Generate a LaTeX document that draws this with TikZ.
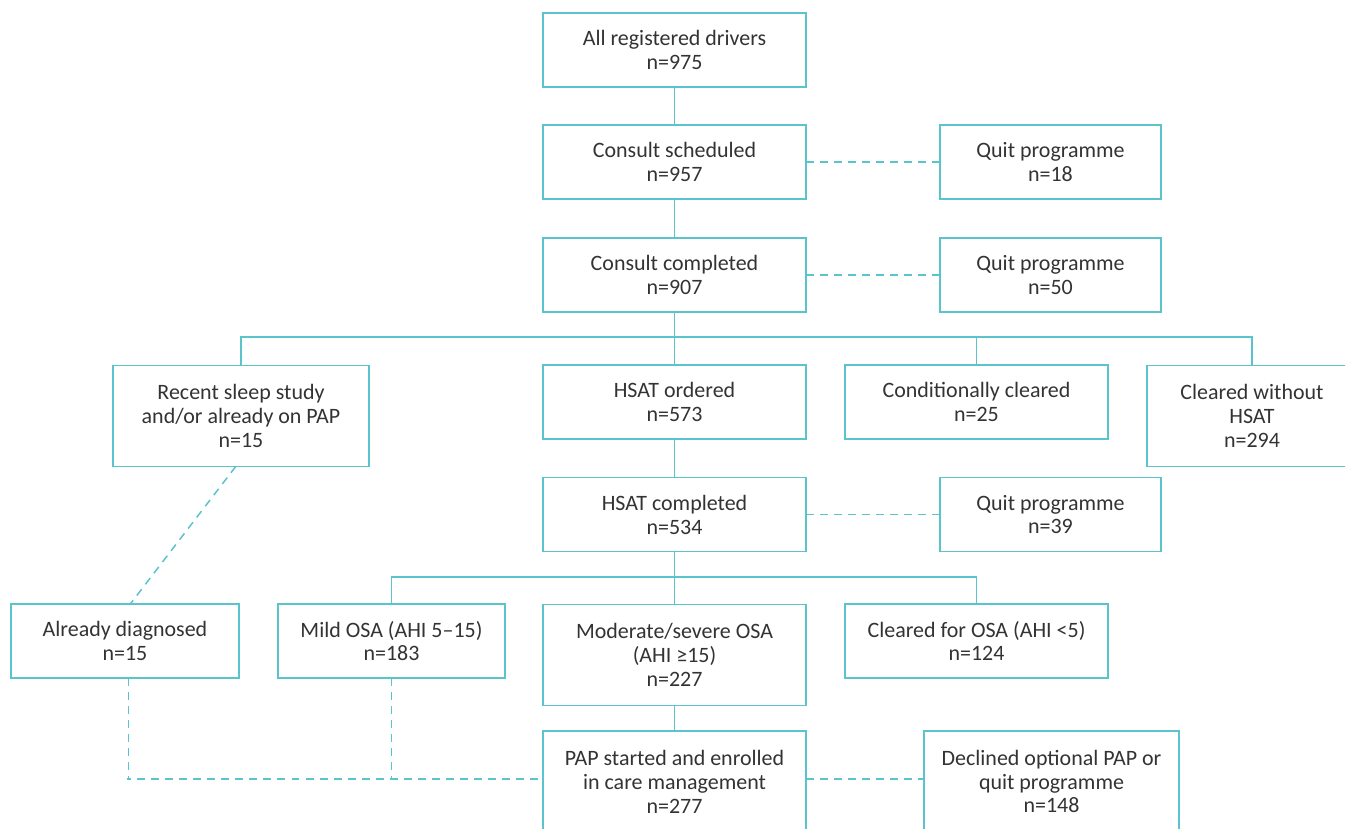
\documentclass[tikz,border=0pt]{standalone}
\usepackage{fontspec}
\setmainfont{Carlito}
\usepackage{tikz}
\definecolor{teal1}{RGB}{91,195,203}
\definecolor{text1}{RGB}{51,51,51}

\tikzset{
  box/.style={draw=teal1, line width=0.85pt, inner sep=0pt, outer sep=0pt,
    align=center, text=text1, minimum width=5.26cm, minimum height=1.48cm,
    font=\fontsize{12.5}{13.6}\selectfont},
  tall/.style={minimum height=2.02cm},
  link/.style={draw=teal1, line width=0.85pt},
  drop/.style={link, dash pattern=on 4.5pt off 3.5pt}
}

\begin{document}
\begin{tikzpicture}[x=0.02cm, y=-0.02cm]
\useasboundingbox (0,0) rectangle (1345,828);

% main column
\node[box] (drv) at (674.5,50) {All registered drivers\\n=975};
\node[box] (sched) at (674.5,162) {Consult scheduled\\n=957};
\node[box, minimum width=4.42cm] (quitA) at (1050.5,162) {Quit programme\\n=18};
\node[box] (compl) at (674.5,275) {Consult completed\\n=907};
\node[box, minimum width=4.42cm] (quitB) at (1050.5,275) {Quit programme\\n=50};

% first split
\node[box, tall, minimum width=5.12cm] (recent) at (241,416) {Recent sleep study\\and/or already on PAP\\n=15};
\node[box] (hord) at (674.5,402) {HSAT ordered\\n=573};
\node[box] (cond) at (976.5,402) {Conditionally cleared\\n=25};
\node[box, tall, minimum width=4.2cm] (nohsat) at (1252,416) {Cleared without\\HSAT\\n=294};

\node[box] (hcompl) at (674.5,514.5) {HSAT completed\\n=534};
\node[box, minimum width=4.42cm] (quitC) at (1050.5,514.5) {Quit programme\\n=39};

% second split
\node[box, minimum width=4.56cm] (diag) at (125,641) {Already diagnosed\\n=15};
\node[box, minimum width=4.54cm] (mild) at (391.5,641) {Mild OSA (AHI 5–15)\\n=183};
\node[box, tall] (mod) at (674.5,655) {Moderate/severe OSA\\(AHI ≥15)\\n=227};
\node[box] (clr) at (976.5,641) {Cleared for OSA (AHI <5)\\n=124};

\node[box, tall] (pap) at (674.5,781.5) {PAP started and enrolled\\in care management\\n=277};
\node[box, tall, minimum width=5.1cm] (decl) at (1051.5,781.5) {Declined optional PAP or\\quit programme\\n=148};

\coordinate (splitA) at (674.5,337);
\coordinate (splitB) at (674.5,577);
\coordinate (join) at (127,779);

\draw[link] (drv) -- (sched);
\draw[link] (sched) -- (compl);
\draw[drop] (sched) -- (quitA);
\draw[drop] (compl) -- (quitB);

\draw[link] (compl) -- (splitA);
\draw[link] (recent.north) |- (splitA) -| (nohsat.north);
\draw[link] (splitA) -- (hord);
\draw[link] (cond.north) -- (cond.north |- splitA);

\draw[link] (hord) -- (hcompl);
\draw[drop] (hcompl) -- (quitC);

\draw[link] (hcompl) -- (splitB);
\draw[link] (mild.north) |- (splitB) -| (clr.north);
\draw[link] (splitB) -- (mod);
\draw[link] (mod) -- (pap);

\draw[drop] ([xshift=-3]recent.south) -- ([xshift=3]diag.north);
\draw[drop] ([xshift=2]diag.south) |- (join) -- (pap.west |- join);
\draw[drop] (mild.south) -- (mild.south |- join);
\draw[drop] (pap.east |- join) -- (decl.west |- join);
\end{tikzpicture}
\end{document}
